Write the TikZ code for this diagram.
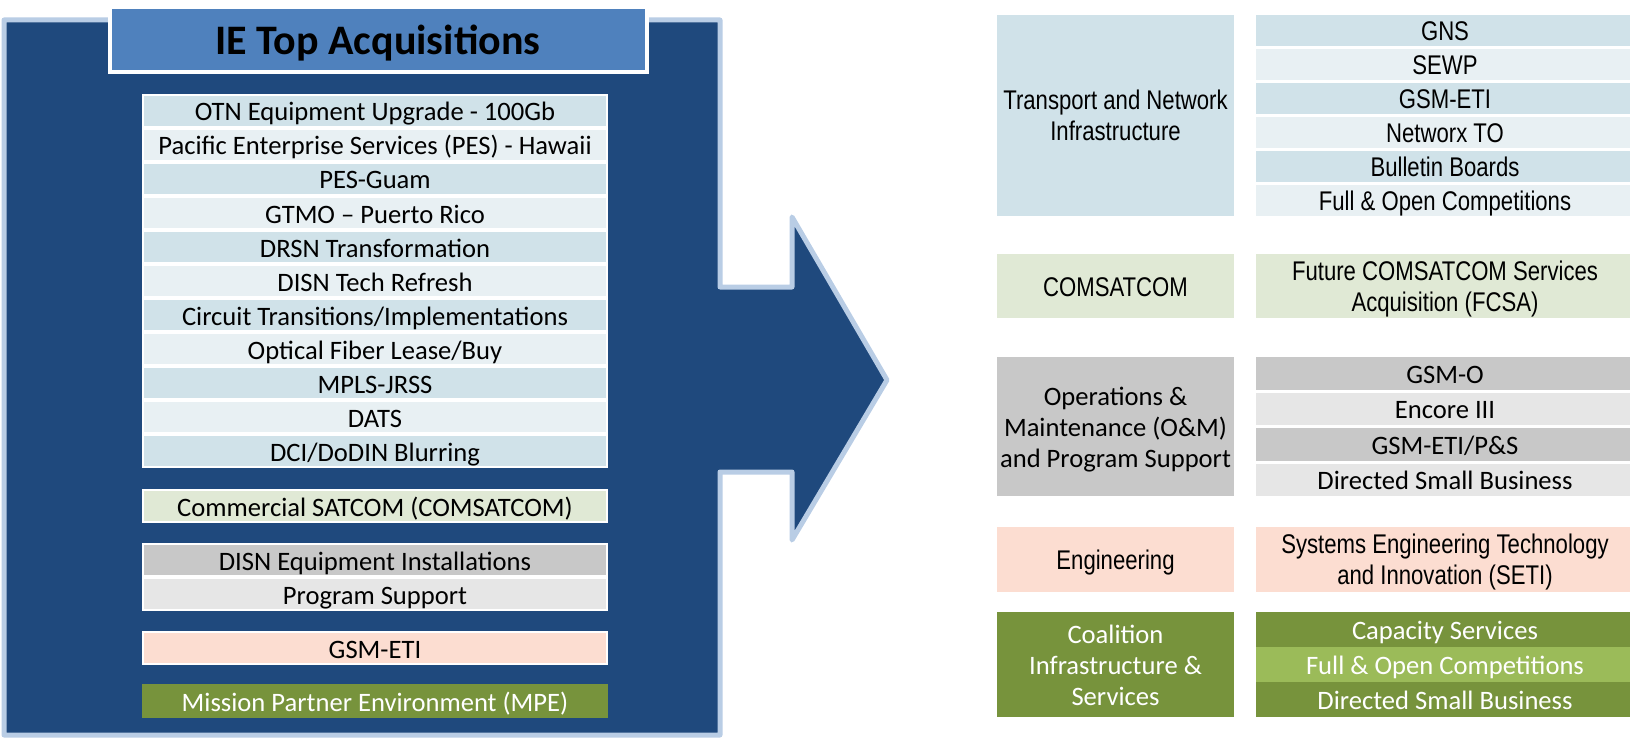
\documentclass[tikz,border=0pt]{standalone}
\usepackage{fontspec}
\setmainfont{Carlito}
\newfontfamily\narrowfont[FakeStretch=0.82]{Liberation Sans}
\usepackage{xcolor}
\usepackage{tikz}
\usetikzlibrary{positioning}

\definecolor{paneldark}{HTML}{1F497D}
\definecolor{paneledge}{HTML}{B9CDE5}
\definecolor{titleblue}{HTML}{4F81BD}
\definecolor{bluedark}{HTML}{D0E2E9}
\definecolor{bluelight}{HTML}{E8F0F3}
\definecolor{greenlight}{HTML}{E0E9D5}
\definecolor{greydark}{HTML}{C8C8C8}
\definecolor{greylight}{HTML}{E6E6E6}
\definecolor{peach}{HTML}{FCDDD1}
\definecolor{olive}{HTML}{77933C}
\definecolor{olivelight}{HTML}{9BBB59}

% struts for first and last line of multi-line boxes
\newcommand{\firstln}{\rule{0pt}{25pt}}
\newcommand{\lastln}{\rule[-5pt]{0pt}{0pt}}

\begin{document}
\begin{tikzpicture}[
        x=1pt, y=-1pt,
        txt/.style={font=\fontsize{26.6}{31}\selectfont, align=center},
        ntxt/.style={font=\narrowfont\fontsize{27}{31}\selectfont, align=center},
        oneline/.style={text height=25pt, text depth=5pt},
        titlebox/.style={rectangle, draw=white, fill=titleblue, line width=4pt, minimum width=537pt, minimum height=65pt, inner sep=0pt, text height=35pt, text depth=6pt, font=\bfseries\fontsize{42}{48}\selectfont},
        listrow/.style={rectangle, draw=white, line width=2pt, minimum width=464pt, minimum height=32pt, inner sep=0pt, txt, oneline},
        catbox/.style={rectangle, minimum width=237pt, inner sep=0pt, outer sep=0pt},
        itembox/.style={rectangle, minimum width=378pt, inner sep=0pt, outer sep=0pt},
        itemrow/.style={itembox, minimum height=31pt, oneline}
    ]
        \useasboundingbox (0,0) rectangle (1630,738);

        % Panel with arrow
        \draw[line width=5pt, draw=paneledge, fill=paneldark, line join=round]
            (4,20) -- (720,20) -- (720,287) -- (792,287) -- (792,217) -- (887,380)
            -- (792,540) -- (792,472) -- (720,472) -- (720,735) -- (4,735) -- cycle;

        \node[titlebox] (title) at (378,40) {IE Top Acquisitions};

        % Acquisitions list
        \node[listrow, fill=bluedark] (otn) at (375,111) {OTN Equipment Upgrade - 100Gb};
        \node[listrow, fill=bluelight, below=0pt of otn] (pesh) {Pacific Enterprise Services (PES) - Hawaii};
        \node[listrow, fill=bluedark, below=0pt of pesh] (pesg) {PES-Guam};
        \node[listrow, fill=bluelight, below=0pt of pesg] (gtmo) {GTMO – Puerto Rico};
        \node[listrow, fill=bluedark, below=0pt of gtmo] (drsn) {DRSN Transformation};
        \node[listrow, fill=bluelight, below=0pt of drsn] (refresh) {DISN Tech Refresh};
        \node[listrow, fill=bluedark, below=0pt of refresh] (circuit) {Circuit Transitions/Implementations};
        \node[listrow, fill=bluelight, below=0pt of circuit] (fiber) {Optical Fiber Lease/Buy};
        \node[listrow, fill=bluedark, below=0pt of fiber] (mpls) {MPLS-JRSS};
        \node[listrow, fill=bluelight, below=0pt of mpls] (dats) {DATS};
        \node[listrow, fill=bluedark, below=0pt of dats] (dci) {DCI/DoDIN Blurring};

        \node[listrow, fill=greenlight, below=21pt of dci] (satcom) {Commercial SATCOM (COMSATCOM)};

        \node[listrow, fill=greydark, below=20pt of satcom] (install) {DISN Equipment Installations};
        \node[listrow, fill=greylight, below=0pt of install] (progsup) {Program Support};

        \node[listrow, fill=peach, below=20pt of progsup] (gsmeti) {GSM-ETI};

        \node[listrow, draw=olive, fill=olive, text=white, below=19pt of gsmeti] (mpe) {Mission Partner Environment (MPE)};

        % Transport and network
        \node[catbox, ntxt, fill=bluedark, minimum height=201pt] (tni) at (1115.5,115.5) {\firstln Transport and Network\\Infrastructure\lastln};
        \node[itemrow, ntxt, fill=bluedark, right=22pt of tni.north east, anchor=north west] (gns) {GNS};
        \node[itemrow, ntxt, fill=bluelight, below=3pt of gns] (sewp) {SEWP};
        \node[itemrow, ntxt, fill=bluedark, below=3pt of sewp] (gsm) {GSM-ETI};
        \node[itemrow, ntxt, fill=bluelight, below=3pt of gsm] (networx) {Networx TO};
        \node[itemrow, ntxt, fill=bluedark, below=3pt of networx] (bboards) {Bulletin Boards};
        \node[itemrow, ntxt, fill=bluelight, below=3pt of bboards] (fullopen) {Full \& Open Competitions};

        % COMSATCOM
        \node[catbox, ntxt, oneline, fill=greenlight, minimum height=64pt] (comsat) at (1115.5,286) {COMSATCOM};
        \node[itembox, ntxt, fill=greenlight, minimum height=64pt, right=22pt of comsat.north east, anchor=north west] (fcsa) {\firstln Future COMSATCOM Services\\Acquisition (FCSA)\lastln};

        % Operations and maintenance
        \node[catbox, txt, fill=greydark, minimum height=139pt] (om) at (1115.5,426.5) {\firstln Operations \&\\Maintenance (O\&M)\\and Program Support\lastln};
        \node[itemrow, txt, fill=greydark, minimum height=32.5pt, right=22pt of om.north east, anchor=north west] (gsmo) {GSM-O};
        \node[itemrow, txt, fill=greylight, minimum height=32.5pt, below=3pt of gsmo] (encore) {Encore III};
        \node[itemrow, txt, fill=greydark, minimum height=32.5pt, below=3pt of encore] (gsmps) {GSM-ETI/P\&S};
        \node[itemrow, txt, fill=greylight, minimum height=32.5pt, below=3pt of gsmps] (dsb) {Directed Small Business};

        % Engineering
        \node[catbox, ntxt, oneline, fill=peach, minimum height=65pt] (eng) at (1115.5,559.5) {Engineering};
        \node[itembox, ntxt, fill=peach, minimum height=65pt, right=22pt of eng.north east, anchor=north west] (seti) {\firstln Systems Engineering Technology\\and Innovation (SETI)\lastln};

        % Coalition
        \node[catbox, txt, fill=olive, text=white, minimum height=105pt] (coal) at (1115.5,664.5) {\firstln Coalition\\Infrastructure \&\\Services\lastln};
        \node[itemrow, txt, fill=olive, text=white, minimum height=35pt, right=22pt of coal.north east, anchor=north west] (capacity) {Capacity Services};
        \node[itemrow, txt, fill=olivelight, text=white, minimum height=35pt, below=0pt of capacity] (coalopen) {Full \& Open Competitions};
        \node[itemrow, txt, fill=olive, text=white, minimum height=35pt, below=0pt of coalopen] (coaldsb) {Directed Small Business};

    \end{tikzpicture}
\end{document}
